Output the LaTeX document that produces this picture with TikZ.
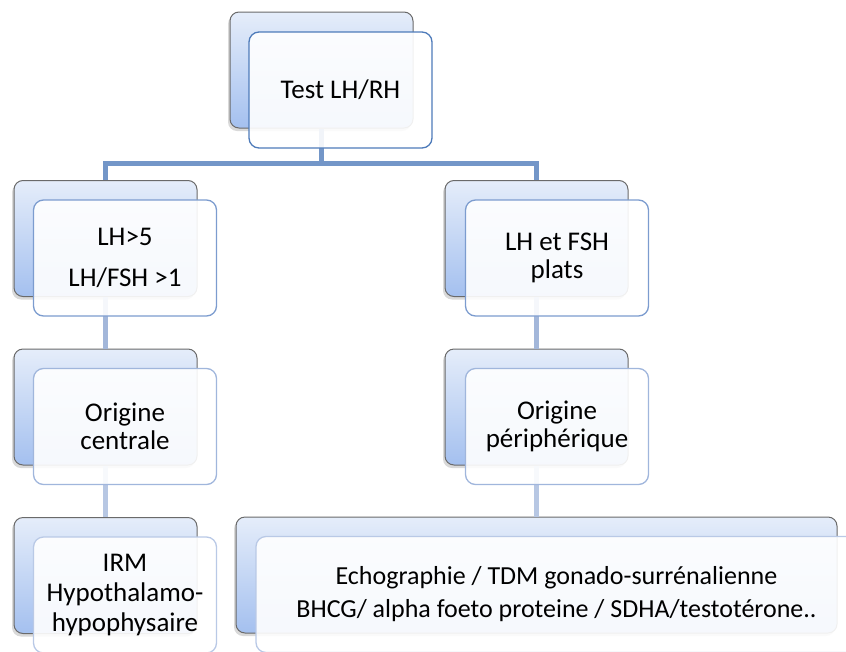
\documentclass[tikz,border=0pt]{standalone}
\usepackage{fontspec}
\setmainfont{Carlito}
\usetikzlibrary{shadows}

\definecolor{backtop}{HTML}{E5EDFA}
\definecolor{backbottom}{HTML}{A4C0EF}
\definecolor{backborder}{HTML}{6A6A6A}
\definecolor{treeline}{HTML}{7396C8}
\definecolor{linkone}{HTML}{A3B7DA}
\definecolor{linktwo}{HTML}{B7C7E3}
\definecolor{rimtop}{HTML}{4E7BBA}
\definecolor{rimone}{HTML}{7C9CCF}
\definecolor{rimtwo}{HTML}{A0B6DC}
\definecolor{rimthree}{HTML}{B9C9E6}

\begin{document}
\begin{tikzpicture}[x=1pt,y=-1pt,
    backbox/.style={rectangle,rounded corners=9pt,draw=backborder,line width=1pt,
      top color=backtop,bottom color=backbottom,
      minimum width=183pt,minimum height=116pt,inner sep=0pt,
      drop shadow={shadow xshift=-2pt,shadow yshift=-3pt,opacity=0.3}},
    frontbox/.style={rectangle,rounded corners=10pt,line width=1.3pt,
      fill=white,fill opacity=0.9,text opacity=1,
      minimum width=183pt,minimum height=116pt,inner sep=0pt,align=center,
      font=\fontsize{27}{28}\selectfont},
    link/.style={line width=5pt}]
    \useasboundingbox (0,0) rectangle (846,651);

    % Back boxes
    \node[backbox] (test_back) at (321.5,70) {};
    \node[backbox] (high_back) at (105.5,238.5) {};
    \node[backbox] (central_back) at (105.5,407) {};
    \node[backbox] (irm_back) at (105.5,575.5) {};
    \node[backbox] (flat_back) at (536.5,238.5) {};
    \node[backbox] (periph_back) at (536.5,407) {};
    \node[backbox,minimum width=601pt] (imaging_back) at (536.5,575) {};

    % Tree lines
    \coordinate (split) at (test_back.south |- 0,163);
    \draw[link,treeline] (test_back.south) -- (split) -| (high_back.north);
    \draw[link,treeline] (split) -| (flat_back.north);
    \draw[link,linkone] (high_back.south) -- (central_back.north);
    \draw[link,linkone] (flat_back.south) -- (periph_back.north);
    \draw[link,linktwo] (central_back.south) -- (irm_back.north);
    \draw[link,linktwo] (periph_back.south) -- (imaging_back.north);

    % Front boxes with the texts
    \node[frontbox,draw=rimtop] (test) at ([shift={(19,20)}]test_back.center) {Test LH/RH};
    \node[frontbox,draw=rimone] (high) at ([shift={(19.5,19.5)}]high_back.center) {LH>5\\[13pt]LH/FSH >1};
    \node[frontbox,draw=rimone] (flat) at ([shift={(20.5,19.5)}]flat_back.center) {LH et FSH\\plats};
    \node[frontbox,draw=rimtwo] (central) at ([shift={(19.5,19.5)}]central_back.center) {Origine\\centrale};
    \node[frontbox,draw=rimtwo] (periph) at ([shift={(20.5,19.5)}]periph_back.center) {Origine\\périphérique};
    \node[frontbox,draw=rimthree,font=\fontsize{27}{30}\selectfont] (irm) at ([shift={(19.5,19.5)}]irm_back.center) {IRM\\Hypothalamo-\\hypophysaire};
    \node[frontbox,draw=rimthree,minimum width=601pt,
      font=\fontsize{26}{33}\selectfont] (imaging) at ([shift={(20,19.5)}]imaging_back.center)
      {Echographie / TDM gonado-surrénalienne\\BHCG/ alpha foeto proteine / SDHA/testotérone..};
\end{tikzpicture}
\end{document}
